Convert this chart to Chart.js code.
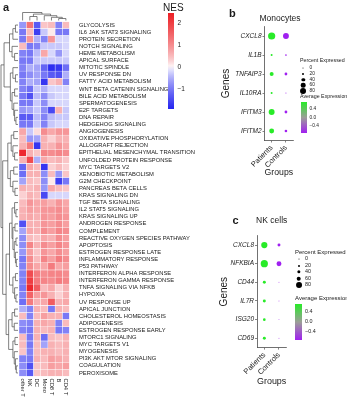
<!DOCTYPE html>
<html>
<head>
<meta charset="utf-8">
<script src="https://cdn.jsdelivr.net/npm/chart.js@4.4.1/dist/chart.umd.min.js"></script>
<style>
  body { margin: 0; background: #fff; }
  #wrap { position: relative; width: 347px; height: 400px; overflow: hidden;
          font-family: "Liberation Sans", Arial, sans-serif; color: #1a1a1a; }
  canvas { position: absolute; }
  .t { position: absolute; white-space: nowrap; line-height: 1; transform: translateY(-50%); }
  .c { transform: translate(-50%, -50%); }
  .bar { position: absolute; }
  .dot { position: absolute; border-radius: 50%; background: #000; transform: translate(-50%, -50%); }
</style>
</head>
<body>
<div id="wrap">
  <canvas id="heat" width="200" height="400" style="left:0;top:0"></canvas>
  <canvas id="mono" width="147" height="195" style="left:200px;top:0"></canvas>
  <canvas id="nk" width="147" height="205" style="left:200px;top:195px"></canvas>
</div>
<script>
// ---- panel a: hallmark NES heatmap ----
const pathways = [
  'GLYCOLYSIS', 'IL6 JAK STAT3 SIGNALING', 'PROTEIN SECRETION', 'NOTCH SIGNALING', 'HEME METABOLISM',
  'APICAL SURFACE', 'MITOTIC SPINDLE', 'UV RESPONSE DN', 'FATTY ACID METABOLISM', 'WNT BETA CATENIN SIGNALING',
  'BILE ACID METABOLISM', 'SPERMATOGENESIS', 'E2F TARGETS', 'DNA REPAIR', 'HEDGEHOG SIGNALING',
  'ANGIOGENESIS', 'OXIDATIVE PHOSPHORYLATION', 'ALLOGRAFT REJECTION', 'EPITHELIAL MESENCHYMAL TRANSITION', 'UNFOLDED PROTEIN RESPONSE',
  'MYC TARGETS V2', 'XENOBIOTIC METABOLISM', 'G2M CHECKPOINT', 'PANCREAS BETA CELLS', 'KRAS SIGNALING DN',
  'TGF BETA SIGNALING', 'IL2 STAT5 SIGNALING', 'KRAS SIGNALING UP', 'ANDROGEN RESPONSE', 'COMPLEMENT',
  'REACTIVE OXYGEN SPECIES PATHWAY', 'APOPTOSIS', 'ESTROGEN RESPONSE LATE', 'INFLAMMATORY RESPONSE', 'P53 PATHWAY',
  'INTERFERON ALPHA RESPONSE', 'INTERFERON GAMMA RESPONSE', 'TNFA SIGNALING VIA NFKB', 'HYPOXIA', 'UV RESPONSE UP',
  'APICAL JUNCTION', 'CHOLESTEROL HOMEOSTASIS', 'ADIPOGENESIS', 'ESTROGEN RESPONSE EARLY', 'MTORC1 SIGNALING',
  'MYC TARGETS V1', 'MYOGENESIS', 'PI3K AKT MTOR SIGNALING', 'COAGULATION', 'PEROXISOME'
];
const cellTypes = ['other T', 'NK', 'DC', 'Mono', 'CD8 T', 'B', 'CD4 T'];

// one row per pathway, columns in cellTypes order
const nes = [
  [-0.7, 1.3, -1.3, 0.4, 0.5, -0.9, 0.5],
  [-1.0, 0.5, -1.6, -0.3, 0.1, -1.0, -1.0],
  [-1.0, 0.9, -0.5, -0.9, 0.9, -0.2, -0.2],
  [0.5, -1.0, -0.9, -0.3, -0.3, -0.3, -0.2],
  [-0.9, -1.0, -0.4, 0.7, -0.2, -0.7, -0.2],
  [-1.0, -1.0, -0.3, -0.3, -0.3, -0.3, -0.3],
  [-0.9, -0.5, -0.6, -1.2, -1.8, -1.7, -1.1],
  [-1.0, -0.8, -0.6, -1.0, -1.3, -1.4, -0.5],
  [-0.9, -0.5, -0.6, -1.7, 0.4, 0.6, -0.9],
  [-0.9, -1.1, -0.3, -0.5, -0.2, -0.2, -0.2],
  [-1.0, -1.4, -0.4, -0.8, -0.3, -0.2, -0.2],
  [-1.0, -1.0, -0.3, -0.8, -0.2, -0.2, -0.2],
  [-0.7, -0.6, -0.3, -0.8, -1.5, 0.6, -0.3],
  [-1.3, -1.3, -0.4, -0.9, -0.4, -0.3, -0.3],
  [-1.0, -1.0, -0.3, -0.9, -0.3, -0.2, -0.2],
  [0.7, -0.3, 0.2, 1.0, 0.7, 0.9, 0.9],
  [0.5, -0.7, -0.6, 0.6, 0.3, 0.6, 0.6],
  [0.6, 1.2, -1.7, 0.6, 0.6, 0.9, 0.7],
  [2.3, 0.6, 0.4, 1.1, 1.0, 1.1, 1.0],
  [0.6, 1.8, -0.5, 0.7, 0.5, 0.6, 0.4],
  [-1.2, 0.7, 0.5, -1.7, 0.3, 0.5, 0.3],
  [-1.1, 0.6, 0.6, -0.8, 0.5, -0.7, 0.4],
  [-0.6, 0.5, 0.4, -0.8, 0.1, -1.6, -1.0],
  [0.6, 0.5, 0.6, -0.7, 0.7, 0.5, 0.4],
  [0.3, 0.6, 0.5, -1.5, -0.2, -0.2, -0.2],
  [0.5, 0.9, 0.7, 0.8, 0.6, 0.9, 0.7],
  [0.6, 0.8, 0.7, 0.9, 0.9, 1.0, 0.8],
  [0.6, 0.7, 0.6, 0.9, 0.8, 1.0, 0.9],
  [-1.4, 0.6, 0.6, 0.9, 0.8, 1.0, 0.8],
  [-0.6, 0.7, 0.6, 1.0, 0.8, 1.1, 1.0],
  [-0.8, 0.5, 0.4, 0.7, 0.6, 1.0, 0.8],
  [-0.8, 1.1, 0.6, 1.0, 0.8, 1.1, 0.9],
  [-0.7, 0.8, 0.4, 0.9, 0.7, 1.0, 0.8],
  [-1.0, 1.0, 0.5, 1.1, 0.8, 1.2, 1.0],
  [-0.9, 1.0, 0.7, 0.7, 1.2, 0.7, 0.8],
  [-0.9, 1.8, 1.2, 1.0, 1.1, 1.1, 1.0],
  [-0.9, 2.0, 1.2, 1.1, 1.0, 1.2, 1.1],
  [-1.0, 2.3, 1.6, 0.5, 0.7, 0.3, 0.6],
  [-0.9, 1.5, 0.8, 0.9, 0.6, 0.3, 0.6],
  [-1.1, 1.2, 0.6, 0.7, 1.6, 0.6, 0.7],
  [-0.5, -0.9, 0.6, 0.5, -1.0, 0.6, 0.5],
  [0.5, -0.9, 0.5, 0.8, 0.6, 0.6, -1.0],
  [-0.8, -0.9, 0.6, 0.7, 0.6, -0.9, 0.5],
  [-0.9, -1.0, 0.6, 0.5, 0.6, -1.0, -0.9],
  [0.5, -1.0, 0.6, -1.1, 0.5, 0.4, 0.6],
  [0.5, -1.0, 0.5, -0.6, 0.6, 0.5, 0.6],
  [0.4, -0.9, 0.5, 0.6, 0.6, 0.5, 0.6],
  [-0.9, -1.0, 0.6, 0.5, 0.8, 0.7, 0.6],
  [-0.8, -1.4, 0.4, 0.5, 0.8, 0.7, 0.8],
  [-0.8, -1.3, 0.4, 0.5, 0.6, 0.6, 0.5]
];
const nesTicks = [2, 1, 0, -1];

// dendrograms: [height, child, child...], leaves are row / column indices
const rowTree = [1.0,
  [0.82,
    [0.5, [0.3, [0.15, 0, 1], 2], [0.35, 3, [0.2, 4, 5]]],
    [0.45, [0.3, 6, [0.15, 7, 8]], [0.35, [0.2, 9, 10], [0.25, 11, [0.2, 12, [0.12, 13, 14]]]]]],
  [0.9,
    [0.6, [0.4, [0.25, 15, 16], [0.3, 17, [0.2, 18, 19]]], [0.45, [0.25, 20, 21], [0.3, 22, [0.18, 23, 24]]]],
    [0.7,
      [0.5,
        [0.35, [0.2, 25, [0.12, 26, 27]], [0.3, [0.18, 28, 29], [0.22, [0.12, 30, 31], [0.15, 32, [0.1, 33, 34]]]]],
        [0.3, [0.15, 35, 36], [0.2, 37, [0.12, 38, 39]]]],
      [0.55, [0.35, [0.2, 40, 41], [0.22, 42, 43]], [0.3, [0.18, 44, 45], [0.22, 46, [0.15, 47, [0.1, 48, 49]]]]]]]];
const colTree = [1.0, 0, [0.8, [0.5, 1, 2], [0.6, 3, [0.4, 4, [0.25, 5, 6]]]]];

// ---- panels b and c: dot plots ----
const groups = ['Patients', 'Controls'];
const monoGenes = ['CXCL8', 'IL1B', 'TNFAIP3', 'IL10RA', 'IFITM3', 'IFITM2'];
const monoPctPatients = [100, 20, 50, 20, 80, 65];
const monoPctControls = [80, 15, 32, 5, 32, 30];
const monoAvgPatients = [0.71, 0.71, 0.71, 0.71, 0.71, 0.71];
const monoAvgControls = [-0.71, -0.71, -0.71, -0.71, -0.71, -0.71];
const nkGenes = ['CXCL8', 'NFKBIA', 'CD44', 'IL7R', 'ISG20', 'CD69'];
const nkPctPatients = [85, 100, 35, 35, 30, 35];
const nkPctControls = [35, 65, 4, 4, 3, 4];
const nkAvgPatients = [0.71, 0.71, 0.71, 0.71, 0.71, 0.71];
const nkAvgControls = [-0.71, -0.71, -0.71, -0.71, -0.71, -0.71];
const pctTicks = [0, 20, 40, 60, 80];
const avgTicks = [0.4, 0.0, -0.4];

const font = '"Liberation Sans", Arial, sans-serif';
Chart.defaults.font.family = font;
Chart.defaults.color = '#1a1a1a';

const NES_MIN = -1.9, NES_MAX = 2.45;
function mix(a, b, t) { return a.map((v, i) => Math.round(v + (b[i] - v) * t)); }
function rgb(c) { return `rgb(${c[0]},${c[1]},${c[2]})`; }
function nesColor(v) {
  const white = [255, 255, 255];
  if (v >= 0) return rgb(mix(white, [236, 30, 36], Math.pow(Math.min(v / NES_MAX, 1), 0.75)));
  return rgb(mix(white, [36, 36, 240], Math.pow(Math.min(v / NES_MIN, 1), 0.75)));
}
const AVG_LIM = 0.707;
const purple = [160, 32, 240], midGrey = [156, 158, 152], green = [40, 235, 40];
function avgColor(v) {
  const t = Math.max(-1, Math.min(1, v / AVG_LIM));
  return t >= 0 ? rgb(mix(midGrey, green, t)) : rgb(mix(midGrey, purple, -t));
}
function dotRadius(pct) { return (0.7 + 0.065 * pct) / 2; }

function drawTree(ctx, node, leafPx, hPx, rows) {
  if (typeof node === 'number') return { p: leafPx(node), h: 0 };
  const [h, ...kids] = node;
  const res = kids.map(k => drawTree(ctx, k, leafPx, hPx, rows));
  const hp = hPx(h);
  const ps = res.map(r => r.p);
  const lo = Math.min(...ps), hi = Math.max(...ps);
  ctx.beginPath();
  res.forEach(r => {
    const cp = hPx(r.h);
    if (rows) { ctx.moveTo(cp, r.p); ctx.lineTo(hp, r.p); }
    else { ctx.moveTo(r.p, cp); ctx.lineTo(r.p, hp); }
  });
  if (rows) { ctx.moveTo(hp, lo); ctx.lineTo(hp, hi); }
  else { ctx.moveTo(lo, hp); ctx.lineTo(hi, hp); }
  ctx.stroke();
  return { p: (lo + hi) / 2, h };
}

const heatExtras = {
  id: 'heatExtras',
  afterDraw(chart) {
    const { ctx, chartArea: a, scales: { x, y } } = chart;
    ctx.save();
    ctx.strokeStyle = '#4a4a4a';
    ctx.lineWidth = 0.7;
    drawTree(ctx, rowTree, i => y.getPixelForValue(i), h => a.left - 1 - h * (a.left - 2), true);
    drawTree(ctx, colTree, c => x.getPixelForValue(c), h => a.top - 1 - h * (a.top - 13.5), false);
    ctx.fillStyle = '#1a1a1a';
    ctx.font = `5.8px ${font}`;
    ctx.textAlign = 'left';
    ctx.textBaseline = 'middle';
    cellTypes.forEach((ct, c) => {
      ctx.save();
      ctx.translate(x.getPixelForValue(c), a.bottom + 2);
      ctx.rotate(Math.PI / 2);
      ctx.fillText(ct, 0, 0);
      ctx.restore();
    });
    ctx.restore();
  }
};

new Chart(document.getElementById('heat'), {
  type: 'bar',
  data: {
    labels: pathways,
    datasets: cellTypes.map((ct, c) => ({
      label: ct,
      data: pathways.map(() => [c - 0.5, c + 0.5]),
      backgroundColor: nes.map(row => nesColor(row[c])),
      borderColor: '#ffffff',
      borderWidth: 0.5,
      borderSkipped: false,
      grouped: false,
      barPercentage: 1,
      categoryPercentage: 1
    }))
  },
  options: {
    indexAxis: 'y',
    responsive: false,
    animation: false,
    devicePixelRatio: 1,
    events: [],
    layout: { padding: { left: 19, top: 21.5, right: 0, bottom: 23.5 } },
    plugins: { legend: { display: false }, tooltip: { enabled: false } },
    scales: {
      x: { type: 'linear', min: -0.5, max: 6.5, display: false },
      y: {
        position: 'right',
        grid: { display: false },
        border: { display: false },
        ticks: { autoSkip: false, padding: 1.5, font: { size: 5.8 }, color: '#1a1a1a' },
        afterFit: s => { s.width = 130.5; }
      }
    }
  },
  plugins: [heatExtras]
});

function dotPlot(id, genes, pctP, pctC, avgP, avgC, g) {
  const series = [[groups[0], pctP, avgP], [groups[1], pctC, avgC]];
  const axisGrid = { drawOnChartArea: false, tickLength: 2, color: '#333', lineWidth: 0.6 };
  const axisBorder = { color: '#333', width: 0.7 };
  new Chart(document.getElementById(id), {
    type: 'bubble',
    data: {
      datasets: series.map(([grp, pct, avg]) => ({
        label: grp,
        data: genes.map((gene, i) => ({ x: grp, y: gene, r: dotRadius(pct[i]) })),
        backgroundColor: avg.map(avgColor),
        borderWidth: 0,
        clip: false
      }))
    },
    options: {
      responsive: false,
      animation: false,
      devicePixelRatio: 1,
      events: [],
      layout: { padding: { left: g.left, top: g.top, right: g.right, bottom: g.bottom } },
      plugins: { legend: { display: false }, tooltip: { enabled: false } },
      scales: {
        x: {
          type: 'category', labels: groups, offset: true,
          grid: axisGrid, border: axisBorder,
          ticks: { autoSkip: false, minRotation: 45, maxRotation: 45, padding: 1, font: { size: 7.5 }, color: '#1a1a1a' },
          title: { display: true, text: 'Groups', font: { size: 9 }, color: '#1a1a1a', padding: 0 },
          afterFit: s => { s.height = g.xh; }
        },
        y: {
          type: 'category', labels: genes, offset: true,
          grid: axisGrid, border: axisBorder,
          ticks: { autoSkip: false, padding: 1, font: { size: 6.5, style: 'italic' }, color: '#1a1a1a' },
          title: { display: true, text: 'Genes', font: { size: 10 }, color: '#1a1a1a', padding: 0 },
          afterFit: s => { s.width = g.yw; }
        }
      }
    }
  });
}

dotPlot('mono', monoGenes, monoPctPatients, monoPctControls, monoAvgPatients, monoAvgControls,
  { left: 20.7, top: 26.5, right: 53.9, bottom: 16.6, yw: 43.8, xh: 37.9 });
dotPlot('nk', nkGenes, nkPctPatients, nkPctControls, nkAvgPatients, nkAvgControls,
  { left: 18, top: 40.7, right: 60.7, bottom: 12.6, yw: 39, xh: 39.8 });

// ---- text and legends ----
const wrap = document.getElementById('wrap');
function addText(txt, x, y, size, extra) {
  const d = document.createElement('div');
  d.className = 't' + (extra && extra.center ? ' c' : '');
  d.textContent = txt;
  d.style.left = x + 'px';
  d.style.top = y + 'px';
  d.style.fontSize = size + 'px';
  if (extra && extra.bold) d.style.fontWeight = 'bold';
  wrap.appendChild(d);
}
function addBar(x, y, w, h, bg) {
  const d = document.createElement('div');
  d.className = 'bar';
  Object.assign(d.style, { left: x + 'px', top: y + 'px', width: w + 'px', height: h + 'px', background: bg });
  wrap.appendChild(d);
}
function addDot(x, y, r) {
  const d = document.createElement('div');
  d.className = 'dot';
  Object.assign(d.style, { left: x + 'px', top: y + 'px', width: 2 * r + 'px', height: 2 * r + 'px' });
  wrap.appendChild(d);
}
function fmt(v) { return (v < 0 ? '\u2212' : '') + Math.abs(v).toFixed(1); }

// panel a legend
addText('a', 3, 7, 11, { bold: true });
addText('NES', 163, 7.5, 10);
const nesTop = 12.7, nesH = 96.6;
const nesStops = [];
for (let k = 0; k <= 20; k++) {
  const v = NES_MAX - (NES_MAX - NES_MIN) * k / 20;
  nesStops.push(`${nesColor(v)} ${k * 5}%`);
}
addBar(168, nesTop, 6.3, nesH, `linear-gradient(to bottom, ${nesStops.join(', ')})`);
nesTicks.forEach(v => addText((v < 0 ? '\u2212' : '') + Math.abs(v), 177.5,
  nesTop + nesH * (NES_MAX - v) / (NES_MAX - NES_MIN), 6.5));

function dotLegend(L) {
  addText('Percent Expressed', L.x, L.titleY, L.fs);
  pctTicks.forEach((p, i) => {
    addDot(L.dotX, L.ys[i], Math.max(dotRadius(p), 0.5));
    addText(String(p), L.labX, L.ys[i], L.fs * 0.9);
  });
  addText('Average Expression', L.x, L.avgY, L.fs);
  const grad = `linear-gradient(to bottom, ${rgb(green)}, ${rgb(midGrey)} 50%, ${rgb(purple)})`;
  addBar(L.barX, L.barTop, L.barW, L.barH, grad);
  avgTicks.forEach(v => addText(fmt(v), L.labX,
    L.barTop + L.barH * (AVG_LIM - v) / (2 * AVG_LIM), L.fs * 0.9));
}

addText('b', 229, 13, 11, { bold: true });
addText('Monocytes', 280, 18, 8.5, { center: true });
dotLegend({ x: 300, titleY: 60.7, fs: 5.3, dotX: 303.3, labX: 309.5,
  ys: [68.3, 74, 79.5, 85, 90.7], avgY: 97.3, barX: 300.7, barTop: 102, barW: 6, barH: 31 });

addText('c', 232.5, 220, 11, { bold: true });
addText('NK cells', 271.7, 220, 8.5, { center: true });
dotLegend({ x: 295, titleY: 252, fs: 6, dotX: 298.7, labX: 305,
  ys: [259, 265.5, 272, 278.5, 285], avgY: 298, barX: 295, barTop: 304.3, barW: 6.7, barH: 36 });
</script>
</body>
</html>
